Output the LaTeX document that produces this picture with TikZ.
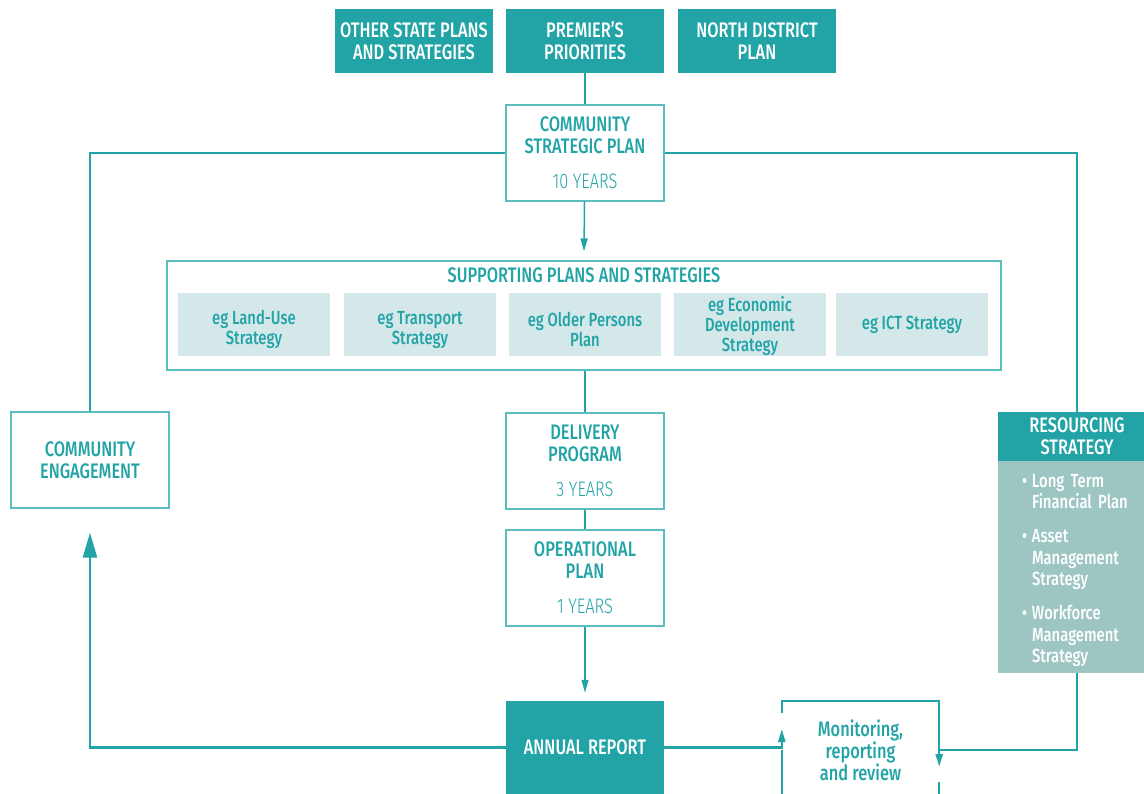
\documentclass[tikz,border=0pt]{standalone}
\usepackage{fontspec}
\setmainfont{Fira Sans Medium}[FakeStretch=0.78]
\newfontfamily\lightfont{Fira Sans Light}[FakeStretch=0.78]
\usepackage{xcolor}
\usetikzlibrary{arrows.meta, positioning, calc}
\definecolor{ipteal}{HTML}{22A4A6}
\definecolor{iplight}{HTML}{5CBDBE}
\definecolor{ipmist}{HTML}{D4E8EA}
\definecolor{ipsage}{HTML}{9DC6C2}
\newcommand{\egstrut}[1][24pt]{\rule{0pt}{#1}}

\begin{document}
\begin{tikzpicture}[x=1pt, y=-1pt]
\tikzset{
  topbox/.style={rectangle,fill=ipteal,text=white,minimum width=158pt,minimum height=64pt,align=center,inner sep=0pt,font=\fontsize{21}{22}\selectfont},
  plan/.style={rectangle,draw=iplight,line width=1.3pt,fill=white,text=ipteal,minimum width=158pt,minimum height=96pt,align=center,inner sep=0pt,font=\fontsize{21}{22}\selectfont},
  egbox/.style={rectangle,fill=ipmist,text=ipteal,minimum width=152pt,minimum height=63pt,align=center,inner sep=0pt,font=\fontsize{19}{20}\selectfont},
  link/.style={draw=ipteal,line width=1.5pt},
  cycle/.style={draw=ipteal,line width=2.5pt},
  tip/.style={-{Triangle[length=13pt,width=7pt]}},
  bigtip/.style={-{Triangle[length=25pt,width=14pt]}}
}
\path[use as bounding box, clip] (0,0) rectangle (1144,794);
% ---- state level
\node[topbox] (osp) at (414,41)  {OTHER STATE PLANS\\AND STRATEGIES};
\node[topbox] (pp)  at (585,41)  {PREMIER'S\\PRIORITIES};
\node[topbox] (ndp) at (757,41)  {NORTH DISTRICT\\PLAN};
% ---- council plans
\node[plan] (csp) at (585,153) {COMMUNITY\\STRATEGIC PLAN\\[13pt]{\lightfont 10 YEARS}};
\node[plan,minimum width=834pt,minimum height=109pt] (sps) at (584,315.5) {};
\node[text=ipteal,font=\fontsize{21}{22}\selectfont] (spt) at (584,275) {SUPPORTING PLANS AND STRATEGIES};
\node[egbox] (eg1) at (254,324.5) {\egstrut eg Land-Use\\Strategy};
\node[egbox] (eg2) at (420,324.5) {\egstrut eg Transport\\Strategy};
\node[egbox] (eg3) at (585,324.5) {\egstrut eg Older Persons\\Plan};
\node[egbox] (eg4) at (750,324.5) {\egstrut[18pt]eg Economic\\Development\\Strategy};
\node[egbox] (eg5) at (912,324.5) {eg ICT Strategy};
\node[plan] (dp) at (585,461) {DELIVERY\\PROGRAM\\[13pt]{\lightfont 3 YEARS}};
\node[plan] (op) at (585,578) {OPERATIONAL\\PLAN\\[13pt]{\lightfont 1 YEARS}};
\node[topbox,minimum height=93pt] (ar) at (585,747.5) {ANNUAL REPORT};
\node[plan] (ce) at (90,460) {COMMUNITY\\ENGAGEMENT};
\node[text=ipteal,minimum width=157pt,minimum height=98pt,align=center,inner sep=0pt,font=\fontsize{21}{22}\selectfont] (mrr) at (860.5,750) {Monitoring,\\reporting\\and review};
% ---- resourcing
\node[topbox,minimum height=49pt] (rshead) at (1077,436.5) {RESOURCING\\STRATEGY};
\node[rectangle,fill=ipsage,text=white,minimum width=158pt,minimum height=212pt,text width=110pt,align=left,inner sep=0pt,font=\fontsize{19}{21.5}\selectfont] (rsbody) at (1077,567)
  {\rule{0pt}{20pt}\makebox[10pt][l]{\textbullet}Long Term\\\hspace*{10pt}Financial Plan\\[12.5pt]
   \makebox[10pt][l]{\textbullet}Asset\\\hspace*{10pt}Management\\\hspace*{10pt}Strategy\\[12.5pt]
   \makebox[10pt][l]{\textbullet}Workforce\\\hspace*{10pt}Management\\\hspace*{10pt}Strategy};
% ---- connectors
\draw[link] (pp) -- (csp);
\draw[link,tip] (csp) -- ([yshift=9pt]sps.north);
\draw[link] (sps.south -| dp) -- (dp);
\draw[link] (dp) -- (op);
\draw[link,tip] (op) -- ([yshift=8pt]ar.north);
% ---- planning cycle
\draw[cycle] (csp.west) -| (ce.north);
\draw[cycle] (csp.east) -| (rshead.north);
\draw[cycle,bigtip] (ar.west) -| ([yshift=-24pt]ce.south);
\draw[cycle,tip] (ar.east) -| ([yshift=21pt]mrr.west);
\draw[cycle,tip] (rsbody.south) |- (mrr.east) -- ([yshift=-17pt]mrr.east);
% ---- monitoring box edges
\draw[link] ([yshift=-12pt]mrr.north west) -- (mrr.north west) -- (mrr.north east) -- (mrr.east);
\draw[link] (mrr.west) -- (mrr.south west);
\draw[link] ([yshift=-32pt]mrr.east) -- (mrr.south east);
\end{tikzpicture}
\end{document}
